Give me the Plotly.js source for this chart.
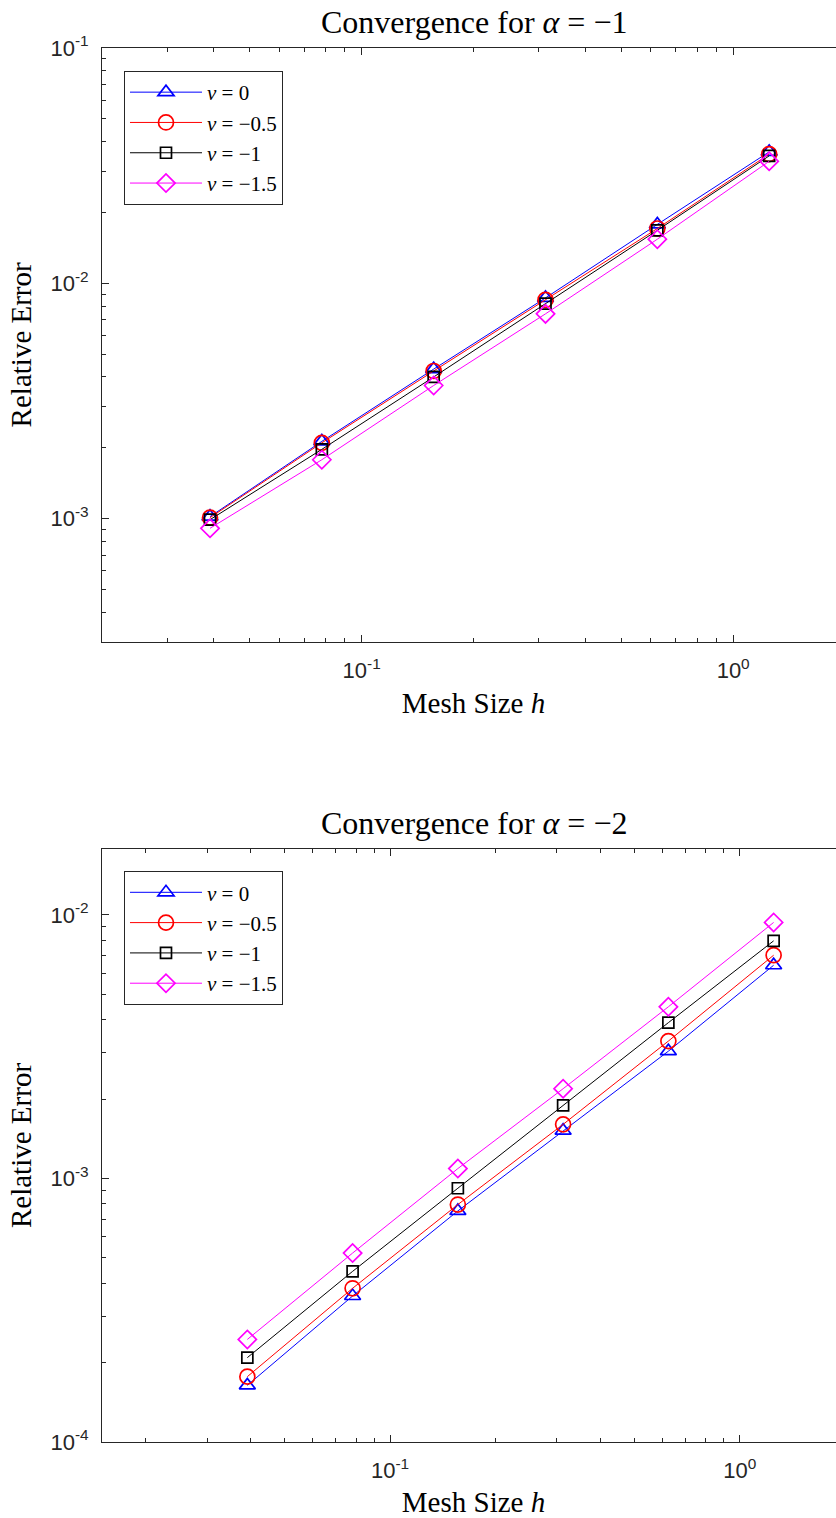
<!DOCTYPE html>
<html>
<head>
<meta charset="utf-8">
<script src="https://cdn.plot.ly/plotly-3.0.1.min.js"></script>
<style>
  html, body { margin: 0; padding: 0; background: #fff; overflow: hidden; }
  #chart { width: 850px; height: 1518px; }
</style>
</head>
<body>
<div id="chart"></div>
<script>
// ---------- DATA ----------
const meshSize = [0.0390625, 0.078125, 0.15625, 0.3125, 0.625, 1.25];
const seriesNames = ['<i>ν</i> = 0', '<i>ν</i> = −0.5', '<i>ν</i> = −1', '<i>ν</i> = −1.5'];

// alpha = -1
const alpha1_nu0   = [0.00102, 0.00213, 0.00432, 0.00867, 0.0178, 0.0362];
const alpha1_nu05  = [0.00101, 0.00210, 0.00424, 0.00850, 0.0171, 0.0354];
const alpha1_nu1   = [0.00099, 0.00197, 0.00400, 0.00820, 0.0168, 0.0348];
const alpha1_nu15  = [0.00091, 0.00178, 0.00368, 0.00742, 0.0154, 0.0330];

// alpha = -2
const alpha2_nu0   = [0.000164, 0.000358, 0.000753, 0.001518, 0.00304, 0.00644];
const alpha2_nu05  = [0.000177, 0.000383, 0.000796, 0.001604, 0.00332, 0.00703];
const alpha2_nu1   = [0.000209, 0.000444, 0.000918, 0.001894, 0.00390, 0.00797];
const alpha2_nu15  = [0.000245, 0.000521, 0.00109, 0.00219, 0.00448, 0.00936];

const titles = ['Convergence for <i>α</i> = −1', 'Convergence for <i>α</i> = −2'];
const xTitle = 'Mesh Size <i>h</i>';
const yTitle = 'Relative Error';
const xTickVals = [0.1, 1];
const xTickText = ['10<sup>-1</sup>', '10<sup>0</sup>'];
const yTickVals1 = [1e-3, 1e-2, 1e-1];
const yTickText1 = ['10<sup>-3</sup>', '10<sup>-2</sup>', '10<sup>-1</sup>'];
const yTickVals2 = [1e-4, 1e-3, 1e-2];
const yTickText2 = ['10<sup>-4</sup>', '10<sup>-3</sup>', '10<sup>-2</sup>'];

// ---------- STYLE ----------
const colors = ['#0000ff', '#ff0000', '#000000', '#ff00ff'];
const symbols = ['triangle-up-open', 'circle-open', 'square-open', 'diamond-open'];
const sizes = [14, 15, 11, 14];
const serif = '"Liberation Serif", "Times New Roman", serif';
const sans = '"Liberation Sans", Arial, Helvetica, sans-serif';
const axisColor = '#262626';

function makeTraces(seriesList, xa, ya, legendId) {
  return seriesList.map((ys, i) => ({
    x: meshSize, y: ys, xaxis: xa, yaxis: ya, legend: legendId,
    name: seriesNames[i], type: 'scatter', mode: 'lines+markers',
    line: { color: colors[i], width: 1 },
    marker: { symbol: symbols[i], size: sizes[i], color: colors[i], line: { color: colors[i], width: 1.7 } }
  }));
}

const data = [].concat(
  makeTraces([alpha1_nu0, alpha1_nu05, alpha1_nu1, alpha1_nu15], 'x', 'y', 'legend'),
  makeTraces([alpha2_nu0, alpha2_nu05, alpha2_nu1, alpha2_nu15], 'x2', 'y2', 'legend2')
);

function xAxis(range, anchor) {
  return {
    type: 'log', range: range, anchor: anchor,
    tickmode: 'array', tickvals: xTickVals, ticktext: xTickText,
    ticks: 'inside', ticklen: 7, tickwidth: 1, tickcolor: axisColor,
    showline: true, linecolor: axisColor, linewidth: 1, mirror: 'allticks',
    showgrid: false, zeroline: false,
    ticklabelstandoff: 9,
    tickfont: { family: sans, size: 22, color: axisColor },
    minor: { ticks: 'inside', ticklen: 4, tickwidth: 1, tickcolor: axisColor, dtick: 'D1', showgrid: false },
    title: { text: xTitle, font: { family: serif, size: 29, color: '#000' }, standoff: 10 }
  };
}
function yAxis(range, domain, anchor, tv, tt) {
  return {
    type: 'log', range: range, domain: domain, anchor: anchor,
    tickmode: 'array', tickvals: tv, ticktext: tt,
    ticks: 'inside', ticklen: 7, tickwidth: 1, tickcolor: axisColor,
    showline: true, linecolor: axisColor, linewidth: 1, mirror: 'allticks',
    showgrid: false, zeroline: false,
    ticklabelstandoff: 8,
    tickfont: { family: sans, size: 22, color: axisColor },
    minor: { ticks: 'inside', ticklen: 4, tickwidth: 1, tickcolor: axisColor, dtick: 'D1', showgrid: false },
    title: { text: yTitle, font: { family: serif, size: 29, color: '#000' }, standoff: 10 }
  };
}

const legendStyle = {
  xref: 'paper', yref: 'paper', xanchor: 'left', yanchor: 'top',
  bgcolor: '#ffffff', bordercolor: axisColor, borderwidth: 1,
  font: { family: serif, size: 21, color: '#000' },
  itemwidth: 72, tracegroupgap: 0
};

const layout = {
  width: 850, height: 1518,
  margin: { l: 102, r: 5, t: 48, b: 76 },
  paper_bgcolor: '#fff', plot_bgcolor: '#fff',
  showlegend: true,
  xaxis: xAxis([Math.log10(0.02), Math.log10(2)], 'y'),
  yaxis: yAxis([Math.log10(3e-4), -1], [0.5741, 1], 'x', yTickVals1, yTickText1),
  xaxis2: xAxis([Math.log10(0.015), Math.log10(2)], 'y2'),
  yaxis2: yAxis([-4, -1.75], [0, 0.4254], 'x2', yTickVals2, yTickText2),
  legend: Object.assign({ x: 0.0296, y: 0.9835 }, legendStyle),
  legend2: Object.assign({ x: 0.0296, y: 0.4095 }, legendStyle),
  annotations: [
    { text: titles[0], xref: 'x domain', yref: 'y domain', x: 0.5, y: 1, xanchor: 'center', yanchor: 'bottom',
      yshift: 6, showarrow: false, font: { family: serif, size: 32, color: '#000' } },
    { text: titles[1], xref: 'x2 domain', yref: 'y2 domain', x: 0.5, y: 1, xanchor: 'center', yanchor: 'bottom',
      yshift: 6, showarrow: false, font: { family: serif, size: 32, color: '#000' } }
  ]
};

Plotly.newPlot('chart', data, layout, { displayModeBar: false, staticPlot: true });
</script>
</body>
</html>
